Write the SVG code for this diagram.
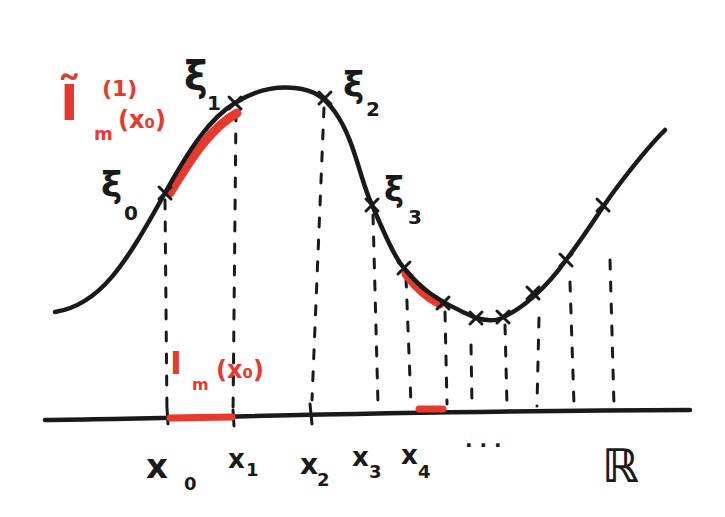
<svg xmlns="http://www.w3.org/2000/svg" width="725" height="517" viewBox="0 0 725 517">
<style>
.k{fill:none;stroke:#1a1a1a;stroke-linecap:round;stroke-linejoin:round}
.curve{stroke-width:4.5}
.d{fill:none;stroke:#1a1a1a;stroke-width:3;stroke-dasharray:9 13;stroke-linecap:round}
.r{fill:none;stroke:#e8392e;stroke-linecap:round}
.t{font-family:"DejaVu Sans","Liberation Sans",sans-serif;fill:#1a1a1a;font-weight:bold}
.tr{font-family:"DejaVu Sans","Liberation Sans",sans-serif;fill:#e8392e;font-weight:bold}
</style>
<rect width="725" height="517" fill="#ffffff"/>
<g id="dashes">
<path class="d" d="M165,200 L167,416"/>
<path class="d" d="M236,112 L233,416"/>
<path class="d" d="M324,108 L312,400"/>
<path class="d" d="M373,215 L378,404"/>
<path class="d" d="M406,278 L411,404"/>
<path class="d" d="M445,312 L447,404"/>
<path class="d" d="M471,345 L472,406"/>
<path class="d" d="M505,325 L507,406"/>
<path class="d" d="M539,318 L537,406"/>
<path class="d" d="M570,282 L574,405"/>
<path class="d" d="M610,260 L614,406"/>
</g>
<g id="axis">
<path class="k" stroke-width="4.5" d="M45,420 C200,418 400,411 690,410"/>
<path class="k" stroke-width="3" d="M167,408 L168,424 M233,410 L234,426 M310,404 L312,424"/>
<path class="r" stroke-width="7" d="M170,418 L232,417"/>
<path class="r" stroke-width="7" d="M419,409 L443,409"/>
</g>
<g id="curve">
<path class="r" stroke-width="9" d="M170,193 C193,155 212,127 237,113"/>
<path class="r" stroke-width="9" d="M406,274 C418,290 428,298 440,304"/>
<path class="k curve" d="M55,312 C100,305 125,265 165,193 C190,148 210,118 235,103 C255,90 275,86 295,88 C315,90 325,98 335,112 C355,140 360,180 372,205 C385,235 395,258 404,268 C420,288 435,300 476,318 C490,322 500,320 503,317 C520,310 545,290 566,260 C590,228 600,210 615,190 C630,170 650,145 665,130"/>
</g>
<g id="crosses" class="k" stroke-width="3">
<path d="M159,187 L171,199 M171,187 L159,199"/>
<path d="M229,97 L241,109 M241,97 L229,109"/>
<path d="M319,92 L331,104 M331,92 L319,104"/>
<path d="M366,199 L378,211 M378,199 L366,211"/>
<path d="M398,262 L410,274 M410,262 L398,274"/>
<path d="M437,297 L449,309 M449,297 L437,309"/>
<path d="M470,312 L482,324 M482,312 L470,324"/>
<path d="M497,311 L509,323 M509,311 L497,323"/>
<path d="M527,287 L539,299 M539,287 L527,299"/>
<path d="M560,254 L572,266 M572,254 L560,266"/>
<path d="M597,199 L609,211 M609,199 L597,211"/>
</g>
<g id="labels-top">
<text class="tr" x="60" y="120" font-size="50">Ĩ</text>
<text class="tr" x="102" y="96" font-size="22">(1)</text>
<text class="tr" x="94" y="140" font-size="18">m</text>
<text class="tr" x="118" y="128" font-size="24">(x₀)</text>
<text class="t" x="184" y="90" font-size="40">ξ</text>
<text class="t" x="207" y="110" font-size="20">1</text>
<text class="t" x="101" y="197" font-size="36">ξ</text>
<text class="t" x="124" y="220" font-size="20">0</text>
<text class="t" x="343" y="97" font-size="36">ξ</text>
<text class="t" x="366" y="116" font-size="20">2</text>
<text class="t" x="384" y="201" font-size="34">ξ</text>
<text class="t" x="408" y="224" font-size="20">3</text>
</g>
<g id="labels-bottom">
<text class="tr" x="170" y="374" font-size="32">I</text>
<text class="tr" x="192" y="390" font-size="16">m</text>
<text class="tr" x="216" y="378" font-size="24">(x₀)</text>
<text class="t" x="146" y="478" font-size="34">x</text>
<text class="t" x="184" y="490" font-size="18">0</text>
<text class="t" x="228" y="468" font-size="26">x</text>
<text class="t" x="246" y="476" font-size="18">1</text>
<text class="t" x="300" y="474" font-size="28">x</text>
<text class="t" x="317" y="486" font-size="18">2</text>
<text class="t" x="352" y="466" font-size="26">x</text>
<text class="t" x="369" y="478" font-size="18">3</text>
<text class="t" x="401" y="464" font-size="26">x</text>
<text class="t" x="418" y="478" font-size="18">4</text>
<text class="t" x="465" y="447" font-size="20">. . .</text>
<text class="t" x="602" y="482" font-size="46">ℝ</text>
</g>
</svg>
